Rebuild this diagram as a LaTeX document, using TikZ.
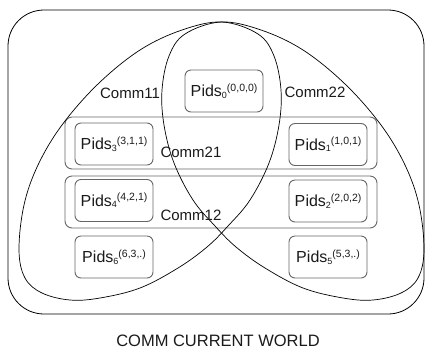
\documentclass[tikz,border=0pt]{standalone}
\usepackage{fontspec}
\setmainfont{Liberation Sans}
\definecolor{pgray}{HTML}{666666}
\definecolor{tgray}{HTML}{1A1A1A}
\newcommand{\pids}[2]{P\kern0.2pt ids\raisebox{-1.5pt}{\fontsize{9}{9}\selectfont #1}\raisebox{5.5pt}{\fontsize{10.5}{10.5}\selectfont #2}}
\begin{document}
\begin{tikzpicture}[x=1pt,y=-1pt,line join=round,
  pbox/.style={draw=pgray,line width=0.9pt,rounded corners=6pt,minimum width=78pt,minimum height=42pt,inner sep=0pt,text=tgray,font=\fontsize{16}{16}\selectfont},
  cbox/.style={draw=pgray,line width=0.9pt,rounded corners=7pt,minimum width=312pt,minimum height=52pt,inner sep=0pt},
  lens/.style={draw=black,line width=0.7pt},
  lbl/.style={font=\fontsize{15}{15}\selectfont,inner sep=0pt,text=tgray},
  title/.style={font=\fontsize{16.5}{16.5}\selectfont,inner sep=0pt,text=tgray}]
\useasboundingbox (0,0) rectangle (430,354);
\node[draw=black,line width=0.8pt,rounded corners=36pt,minimum width=416pt,minimum height=304pt,inner sep=0pt] (world) at (216,162) {};
\node[cbox] (c21) at (221,143) {};
\node[cbox] (c12) at (221,202) {};
% left lens (Comm11)
\draw[lens] plot[smooth cycle,tension=0.6] coordinates {(222,22) (258,34) (274,56) (281,90) (279,125) (269,163) (250,200) (228,226) (207,247) (178,268) (140,288) (100,298) (70,300) (42,293) (25,278) (19,250) (24,205) (38,165) (62,125) (98,84) (140,50) (182,30)};
% right lens (Comm22)
\draw[lens] plot[smooth cycle,tension=0.6] coordinates {(221,22) (185,34) (169,56) (162,90) (164,125) (174,163) (193,200) (215,226) (236,247) (265,268) (303,288) (343,298) (373,300) (401,293) (418,278) (424,250) (419,205) (405,165) (381,125) (345,84) (303,50) (261,30)};
\node[pbox] (p0) at (224,91) {\pids{0}{(0,0,0)}};
\node[pbox] (p3) at (114,144) {\pids{3}{(3,1,1)}};
\node[pbox] (p1) at (328,144.5) {\pids{1}{(1,0,1)}};
\node[pbox] (p4) at (114,200.5) {\pids{4}{(4,2,1)}};
\node[pbox] (p2) at (328,201) {\pids{2}{(2,0,2)}};
\node[pbox] (p6) at (114,257) {\pids{6}{(6,3,.)}};
\node[pbox] (p5) at (328,257) {\pids{5}{(5,3,.)}};
\node[lbl] (l11) at (130,93) {Comm11};
\node[lbl] (l22) at (315,92) {Comm22};
\node[lbl] (l21) at (191,152) {Comm21};
\node[lbl] (l12) at (191,215) {Comm12};
\node[title] (tw) at (218,341) {COMM CURRENT WORLD};
\end{tikzpicture}
\end{document}
